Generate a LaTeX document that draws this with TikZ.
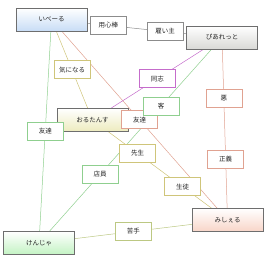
\documentclass[tikz,border=0pt]{standalone}
\usepackage{fontspec}
\newfontfamily\cjk{Noto Sans CJK JP}
\usetikzlibrary{shadows,backgrounds}
\definecolor{RelFrame}{HTML}{6E6E6E}
\definecolor{RelGray}{HTML}{8C8C8C}
\definecolor{RelGold}{HTML}{CFC57A}
\definecolor{RelGreen}{HTML}{8FCF8F}
\definecolor{RelRed}{HTML}{E0A291}
\definecolor{RelPurple}{HTML}{C56CCB}
\definecolor{RelOlive}{HTML}{BCC883}
\definecolor{RelBlueFill}{HTML}{C8DDF6}
\definecolor{RelGrayFill}{HTML}{D9D9D6}
\definecolor{RelGoldFill}{HTML}{EDEBBE}
\definecolor{RelGreenFill}{HTML}{C3F3C3}
\definecolor{RelRedFill}{HTML}{F8D5C8}
\tikzset{
  relBase/.style={
    font=\cjk\fontsize{6.5pt}{7.5pt}\selectfont,
    text centered,
    text=black!85,
    inner sep=2pt,
    line width=0.6pt
  },
  relChar/.style={
    relBase,
    draw=RelFrame,
    line width=0.8pt,
    top color=white,
    minimum width=71pt,
    minimum height=23pt,
    drop shadow={shadow xshift=0.7pt, shadow yshift=-0.7pt, opacity=0.35}
  },
  relTag/.style={
    relBase,
    fill=white,
    minimum width=36pt,
    minimum height=18pt
  },
  relLine/.style={
    line width=0.5pt
  }
}

\begin{document}
\begin{tikzpicture}[x=1pt, y=-1pt]
  \useasboundingbox (0,0) rectangle (270,266);
  % characters
  \node (ibeeru) [relChar, bottom color=RelBlueFill] at (51.5,19.5) {いべーる};
  \node (piaretto) [relChar, bottom color=RelGrayFill] at (222,37.5) {ぴあれっと};
  \node (orutansu) [relChar, bottom color=RelGoldFill] at (92.5,120) {おるたんす};
  \node (kenja) [relChar, bottom color=RelGreenFill] at (39,243) {けんじゃ};
  \node (misheru) [relChar, bottom color=RelRedFill] at (227.5,220) {みしぇる};

  % relation lines, behind the characters
  \begin{pgfonlayer}{background}
    \draw [relLine, RelGray] (ibeeru.center) -- (piaretto.center);
    \draw [relLine, RelGold] (ibeeru.center) -- (orutansu.center);
    \draw [relLine, RelGreen] (ibeeru.center) -- (kenja.center);
    \draw [relLine, RelRed] (ibeeru.center) -- (misheru.center);
    \draw [relLine, RelPurple] (piaretto.center) -- (orutansu.center);
    \draw [relLine, RelGreen] (piaretto.center) -- (kenja.center);
    \draw [relLine, RelRed] (piaretto.center) -- (misheru.center);
    \draw [relLine, RelGold] (orutansu.center) -- (misheru.center);
    \draw [relLine, RelOlive] (kenja.center) -- (misheru.center);
  \end{pgfonlayer}

  % relation labels
  \path (ibeeru.center) --
    node [relTag, draw=RelGray, pos=1/3] (yojinbo) {用心棒}
    node [relTag, draw=RelGray, pos=2/3] (yatoinushi) {雇い主} (piaretto.center);
  \path (ibeeru.center) --
    node [relTag, draw=RelGold] (kininaru) {気になる} (orutansu.center);
  \path (ibeeru.center) --
    node [relTag, draw=RelGreen] (tomoL) {友達} (kenja.center);
  \path (ibeeru.center) --
    node [relTag, draw=RelRed] (tomoC) {友達} (misheru.center);
  \path (piaretto.center) --
    node [relTag, draw=RelPurple] (doshi) {同志} (orutansu.center);
  \path (piaretto.center) --
    node [relTag, draw=RelGreen, pos=1/3] (kyaku) {客}
    node [relTag, draw=RelGreen, pos=2/3] (tenin) {店員} (kenja.center);
  \path (piaretto.center) --
    node [relTag, draw=RelRed, pos=1/3] (aku) {悪}
    node [relTag, draw=RelRed, pos=2/3] (seigi) {正義} (misheru.center);
  \path (orutansu.center) --
    node [relTag, draw=RelGold, pos=1/3] (sensei) {先生}
    node [relTag, draw=RelGold, pos=2/3] (seito) {生徒} (misheru.center);
  \path (kenja.center) --
    node [relTag, draw=RelOlive] (nigate) {苦手} (misheru.center);
\end{tikzpicture}
\end{document}
